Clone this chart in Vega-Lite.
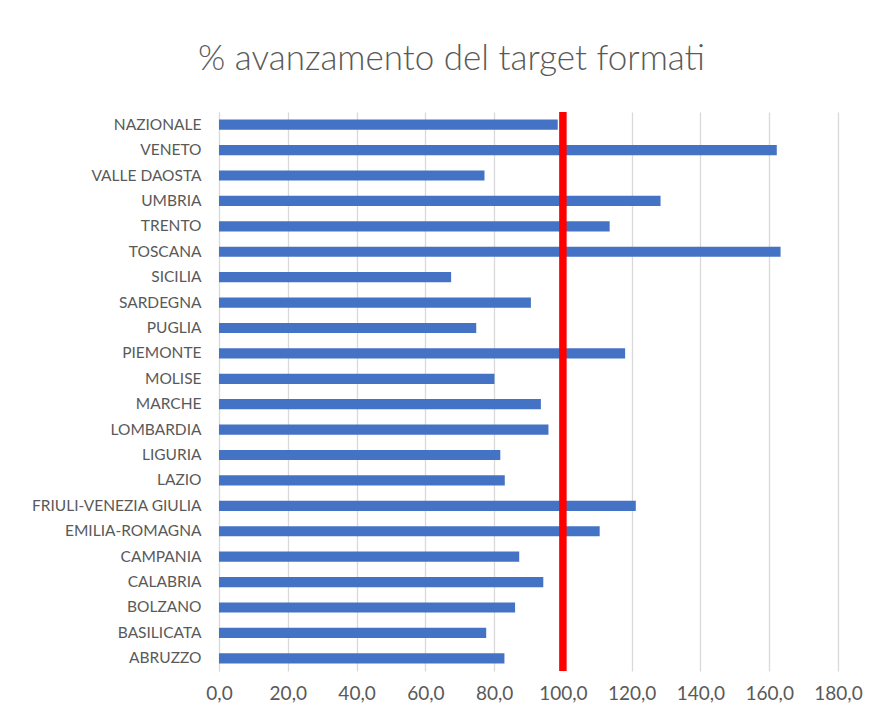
{
  "$schema": "https://vega.github.io/schema/vega-lite/v6.json",
  "autosize": {"type": "none"},
  "padding": {"left": 219, "top": 112, "right": 41, "bottom": 53},
  "width": 619,
  "height": 559,
  "background": "white",
  "title": {
    "text": "% avanzamento del target formati",
    "font": "Lato",
    "fontSize": 35,
    "fontWeight": 300,
    "color": "#595959",
    "anchor": "middle",
    "dx": -77,
    "offset": 31
  },
  "data": {
    "values": [
      {"regione": "NAZIONALE", "valore": 98.5},
      {"regione": "VENETO", "valore": 162.2},
      {"regione": "VALLE DAOSTA", "valore": 77.2},
      {"regione": "UMBRIA", "valore": 128.4},
      {"regione": "TRENTO", "valore": 113.6},
      {"regione": "TOSCANA", "valore": 163.3},
      {"regione": "SICILIA", "valore": 67.5},
      {"regione": "SARDEGNA", "valore": 90.7},
      {"regione": "PUGLIA", "valore": 74.8},
      {"regione": "PIEMONTE", "valore": 118.1},
      {"regione": "MOLISE", "valore": 80.1},
      {"regione": "MARCHE ", "valore": 93.6},
      {"regione": "LOMBARDIA", "valore": 95.8},
      {"regione": "LIGURIA", "valore": 81.8},
      {"regione": "LAZIO", "valore": 83.1},
      {"regione": "FRIULI-VENEZIA GIULIA", "valore": 121.2},
      {"regione": "EMILIA-ROMAGNA", "valore": 110.7},
      {"regione": "CAMPANIA", "valore": 87.3},
      {"regione": "CALABRIA", "valore": 94.3},
      {"regione": "BOLZANO", "valore": 86.1},
      {"regione": "BASILICATA", "valore": 77.7},
      {"regione": "ABRUZZO", "valore": 83.0}
    ]
  },
  "config": {
    "view": {"stroke": null},
    "axis": {"labelFont": "Lato", "labelColor": "#595959"}
  },
  "layer": [
    {
      "mark": {"type": "bar", "color": "#4472C4", "height": {"band": 0.4}},
      "encoding": {
        "y": {
          "field": "regione",
          "type": "nominal",
          "sort": null,
          "title": null,
          "scale": {"paddingInner": 0, "paddingOuter": 0},
          "axis": {
            "ticks": false,
            "domain": true,
            "domainColor": "#d9d9d9",
            "labelFontSize": 15.5,
            "labelPadding": 18
          }
        },
        "x": {
          "field": "valore",
          "type": "quantitative",
          "title": null,
          "scale": {"domain": [0, 180], "nice": false},
          "axis": {
            "values": [0, 20, 40, 60, 80, 100, 120, 140, 160, 180],
            "labelExpr": "replace(format(datum.value, '.1f'), '.', ',')",
            "labelFontSize": 19,
            "labelPadding": 13,
            "labelFlush": false,
            "labelOverlap": false,
            "ticks": false,
            "domain": false,
            "grid": true,
            "gridColor": "#d9d9d9",
            "gridWidth": 1.3
          }
        }
      }
    },
    {
      "data": {"values": [{"target": 100}]},
      "mark": {"type": "rule", "color": "#ff0000", "strokeWidth": 7.5},
      "encoding": {
        "x": {"field": "target", "type": "quantitative"}
      }
    }
  ]
}
